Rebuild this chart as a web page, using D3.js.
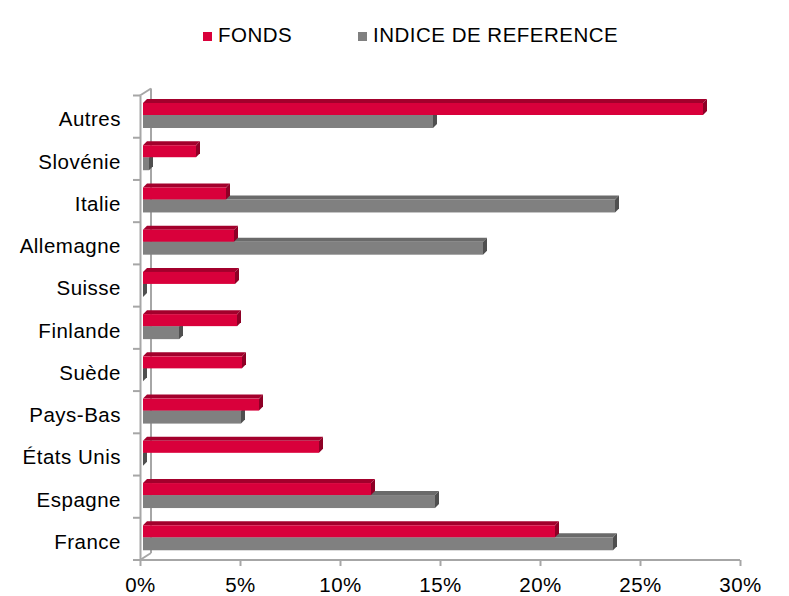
<!DOCTYPE html>
<html>
<head>
<meta charset="utf-8">
<script src="https://cdn.jsdelivr.net/npm/d3@7"></script>
<style>
  body { margin: 0; background: #fff; }
  svg { font-family: "Liberation Sans", Arial, sans-serif; }
</style>
</head>
<body>
<svg id="chart"></svg>
<script>

/////////////////////////////////
// DATA
//////////////////////////////////

var categories = ["Autres", "Slovénie", "Italie", "Allemagne", "Suisse", "Finlande", "Suède", "Pays-Bas", "États Unis", "Espagne", "France"];
var fonds = [28.0, 2.65, 4.15, 4.55, 4.6, 4.7, 4.95, 5.8, 8.8, 11.4, 20.6];
var indice = [14.5, 0.3, 23.6, 17.0, 0, 1.8, 0, 4.9, 0, 14.6, 23.5];
var xTicks = [0, 5, 10, 15, 20, 25, 30];
var seriesNames = ["FONDS", "INDICE DE REFERENCE"];

/////////////////////////////////
// SETUP
//////////////////////////////////

var width = 789;
var height = 596;

var svg = d3.select("#chart")
    .attr("width", width)
    .attr("height", height);

var axisColor = "#a6a6a6";
var fontSize = 20.5;
var spacing = 0.5;
var depth = 4;   // 3d offset of the bars
var wall = { dx: 11, dy: -7 };

var x = d3.scaleLinear()
    .domain([0, 30])
    .range([140, 740]);

var y = d3.scaleBand()
    .domain(categories)
    .range([95.5, 560]);

var colors = {
    red: { front: "#d9003b", top: "#a3002c", side: "#8e0026" },
    grey: { front: "#808080", top: "#6a6a6a", side: "#4f4f4f" }
};

/////////////////////////////////
// AXES / WALLS
//////////////////////////////////

var frame = svg.append("g")
    .attr("fill", "none")
    .attr("stroke", axisColor)
    .attr("stroke-width", 2);

// back wall line
frame.append("line")
    .attr("x1", x(0) + wall.dx).attr("y1", y.range()[0] + wall.dy)
    .attr("x2", x(0) + wall.dx).attr("y2", y.range()[1] + wall.dy);
frame.append("line")
    .attr("x1", x(0)).attr("y1", y.range()[0])
    .attr("x2", x(0) + wall.dx).attr("y2", y.range()[0] + wall.dy);
frame.append("line")
    .attr("x1", x(0)).attr("y1", y.range()[1])
    .attr("x2", x(0) + wall.dx).attr("y2", y.range()[1] + wall.dy);

// left ticks on band boundaries
var boundaries = categories.map(function(c) { return y(c); }).concat([y.range()[1]]);
frame.selectAll(".ltick")
    .data(boundaries)
    .enter().append("line")
    .attr("class", "ltick")
    .attr("x1", x(0) - 7).attr("x2", x(0))
    .attr("y1", function(d) { return d; })
    .attr("y2", function(d) { return d; });

var yAxis = svg.append("g")
    .attr("transform", "translate(" + x(0) + ",0)")
    .call(d3.axisLeft(y).tickSize(0).tickPadding(19));
yAxis.select(".domain").attr("stroke", axisColor).attr("stroke-width", 2);
yAxis.selectAll("text")
    .attr("font-size", fontSize)
    .attr("letter-spacing", spacing)
    .attr("fill", "#000")
    .attr("dy", "0.48em")
    .attr("font-family", "Liberation Sans, Arial, sans-serif");

var xAxis = svg.append("g")
    .attr("transform", "translate(0," + y.range()[1] + ")")
    .call(d3.axisBottom(x).tickValues(xTicks).tickSize(6).tickPadding(11)
        .tickFormat(function(d) { return d + "%"; }));
xAxis.select(".domain").attr("stroke", axisColor).attr("stroke-width", 2)
    .attr("d", "M" + x(0) + ",0H" + x(30));
xAxis.selectAll(".tick line").attr("stroke", axisColor).attr("stroke-width", 2);
xAxis.selectAll("text")
    .attr("font-size", fontSize)
    .attr("letter-spacing", spacing)
    .attr("fill", "#000")
    .attr("font-family", "Liberation Sans, Arial, sans-serif");

/////////////////////////////////
// BARS
//////////////////////////////////

function bar3d(g, x0, x1, y0, y1, col) {
    var d = depth;
    // top face
    g.append("path")
        .attr("d", "M" + x0 + "," + y0 + "L" + (x0 + d) + "," + (y0 - d) +
            "L" + (x1 + d) + "," + (y0 - d) + "L" + x1 + "," + y0 + "Z")
        .attr("fill", col.top);
    // front face
    g.append("rect")
        .attr("x", x0).attr("y", y0)
        .attr("width", Math.max(0, x1 - x0)).attr("height", y1 - y0)
        .attr("fill", col.front);
    // side face
    g.append("path")
        .attr("d", "M" + x1 + "," + y0 + "L" + (x1 + d) + "," + (y0 - d) +
            "L" + (x1 + d) + "," + (y1 - d) + "L" + x1 + "," + y1 + "Z")
        .attr("fill", col.side);
}

var bars = svg.append("g");
var shift = 3;

categories.forEach(function(c, i) {
    var b = y(c);
    var g = bars.append("g");
    bar3d(g, x(0) + shift, x(indice[i]) + shift, b + 19.5, b + 32.5, colors.grey);
    bar3d(g, x(0) + shift, x(fonds[i]) + shift, b + 7.5, b + 19.5, colors.red);
});

/////////////////////////////////
// LEGEND
//////////////////////////////////

var legendX = [203, 358];
var legendCols = [colors.red.front, colors.grey.front];
var legend = svg.append("g");

seriesNames.forEach(function(s, i) {
    legend.append("rect")
        .attr("x", legendX[i]).attr("y", 32)
        .attr("width", 9).attr("height", 9)
        .attr("fill", legendCols[i]);
    legend.append("text")
        .attr("x", legendX[i] + 15).attr("y", 42)
        .attr("font-size", fontSize)
        .attr("letter-spacing", spacing)
        .attr("fill", "#000")
        .text(s);
});

</script>
</body>
</html>
